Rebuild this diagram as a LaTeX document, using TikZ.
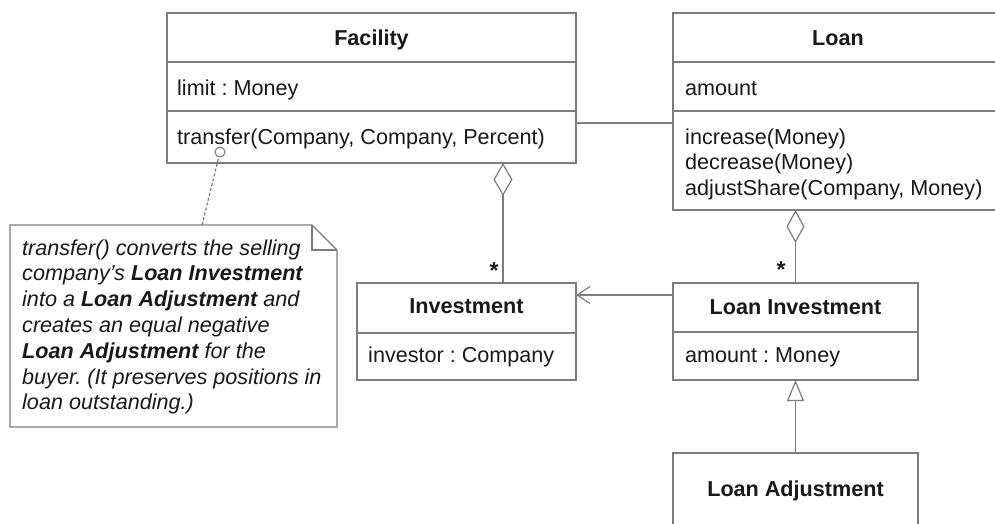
\documentclass[tikz,border=0pt]{standalone}
\usepackage{fontspec}
\setmainfont{Liberation Sans}
\usetikzlibrary{arrows.meta}
\definecolor{linec}{RGB}{125,125,125}
\definecolor{txt}{RGB}{25,25,25}
\frenchspacing
\begin{document}
\begin{tikzpicture}[x=1pt,y=-1pt,
  box/.style={draw=linec, line width=1.2pt, inner sep=0pt, outer sep=0pt},
  ttl/.style={font=\fontsize{21.6}{25.8}\selectfont\bfseries, text=txt, inner sep=0pt, anchor=base},
  attr/.style={font=\fontsize{21.6}{25.8}\selectfont, text=txt, inner sep=0pt, anchor=base west},
  notetxt/.style={font=\fontsize{21.6}{25.8}\selectfont\itshape, text=txt, inner sep=0pt, anchor=base west},
  conn/.style={draw=linec, line width=1.2pt},
  mult/.style={font=\fontsize{23}{25.8}\selectfont\bfseries, text=txt, inner sep=0pt, anchor=base},
]
\useasboundingbox (0,0) rectangle (995,523);
\fill[white] (0,0) rectangle (995,523);
\begin{scope}
\clip (0,0) rectangle (995,523);

% ---------- Facility ----------
\node[box, minimum width=409pt, minimum height=150pt] (facility) at (371.5,88) {};
\draw[conn] (facility.west |- 0,62) -- (facility.east |- 0,62);
\draw[conn] (facility.west |- 0,111) -- (facility.east |- 0,111);
\node[ttl] (facilityT) at (371.5,45) {Facility};
\node[attr] (facilityA) at (177,95) {limit : Money};
\node[attr] (facilityO) at (177,144.5) {transfer(Company, Company, Percent)};

% ---------- Loan ----------
\node[box, minimum width=330pt, minimum height=197pt] (loan) at (838,111.5) {};
\draw[conn] (loan.west |- 0,62) -- (loan.east |- 0,62);
\draw[conn] (loan.west |- 0,111) -- (loan.east |- 0,111);
\node[ttl] (loanT) at (838,45) {Loan};
\node[attr] (loanA) at (685,95) {amount};
\node[attr] (loanO1) at (685,144) {increase(Money)};
\node[attr] (loanO2) at (685,169.5) {decrease(Money)};
\node[attr] (loanO3) at (685,195) {adjustShare(Company, Money)};

% ---------- Investment ----------
\node[box, minimum width=219pt, minimum height=97pt] (inv) at (466.5,331.5) {};
\draw[conn] (inv.west |- 0,333) -- (inv.east |- 0,333);
\node[ttl] (invT) at (466.5,313.5) {Investment};
\node[attr] (invA) at (368,362) {investor : Company};

% ---------- Loan Investment ----------
\node[box, minimum width=245pt, minimum height=97pt] (linv) at (795.5,331.5) {};
\draw[conn] (linv.west |- 0,332) -- (linv.east |- 0,332);
\node[ttl] (linvT) at (795.5,314) {Loan Investment};
\node[attr] (linvA) at (685,362) {amount : Money};

% ---------- Loan Adjustment ----------
\node[box, minimum width=245pt, minimum height=107pt] (ladj) at (795.5,506.5) {};
\node[ttl] (ladjT) at (795.5,496) {Loan Adjustment};

% ---------- Note ----------
\node[minimum width=327pt, minimum height=202pt, inner sep=0pt, outer sep=0pt] (note) at (173.5,326) {};
\draw[conn] (note.south west) -- (note.north west) -- ([xshift=-25pt]note.north east)
  -- ([yshift=-25pt]note.north east) -- (note.south east) -- cycle;
\draw[conn] ([xshift=-25pt]note.north east) -- ([xshift=-25pt,yshift=-25pt]note.north east)
  -- ([yshift=-25pt]note.north east);
\node[notetxt] (n1) at (22,255) {transfer() converts the selling};
\node[notetxt] (n2) at (22,280.8) {company's \textbf{Loan Investment}};
\node[notetxt] (n3) at (22,306.6) {into a \textbf{Loan Adjustment} and};
\node[notetxt] (n4) at (22,332.4) {creates an equal negative};
\node[notetxt] (n5) at (22,358.2) {\textbf{Loan Adjustment} for the};
\node[notetxt] (n6) at (22,384) {buyer. (It preserves positions in};
\node[notetxt] (n7) at (22,409.8) {loan outstanding.)};

% note anchor
\node[circle, draw=linec, line width=1.1pt, fill=white, minimum size=10pt, inner sep=0pt] (anc) at (220,152) {};
\draw[conn, dash pattern=on 3pt off 2pt] ([xshift=192pt]note.north west) -- (anc);

% ---------- Connectors ----------
% Facility -- Loan association
\draw[conn] ([yshift=-35pt]facility.east) -- ([yshift=-35pt]facility.east -| loan.west);
% Facility <>-- Investment
\draw[conn, -{Diamond[open, fill=white, length=33pt, width=19pt]}]
  ([xshift=36.5pt]inv.north) -- ([xshift=36.5pt]inv.north |- facility.south);
\node[mult] (m1) at (494,278) {*};
% Loan <>-- Loan Investment
\draw[conn, -{Diamond[open, fill=white, length=33pt, width=18pt]}]
  (linv.north) -- (linv.north |- loan.south);
\node[mult] (m2) at (781,277) {*};
% Loan Investment --> Investment
\draw[conn, -{Straight Barb[length=13pt, width=17pt]}]
  ([yshift=36.5pt]linv.west) -- ([yshift=36.5pt]inv.east);
% Loan Adjustment --|> Loan Investment
\draw[conn, -{Triangle[open, fill=white, length=21pt, width=17pt]}]
  (ladj.north) -- (linv.south);
\end{scope}
\end{tikzpicture}
\end{document}
